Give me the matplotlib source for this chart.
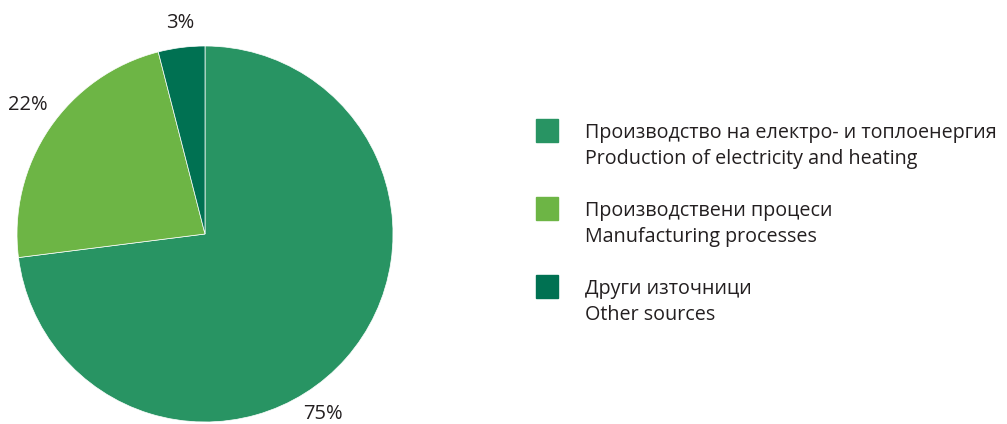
import matplotlib.pyplot as plt
from matplotlib.patches import Rectangle
import numpy as np

plt.rcParams['font.family'] = ['Open Sans', 'DejaVu Sans']

# slice sizes as drawn, printed labels as in the source
shares = [73, 23, 4]
pct_labels = ['75%', '22%', '3%']
names_bg = ['Производство на електро- и топлоенергия',
            'Производствени процеси',
            'Други източници']
names_en = ['Production of electricity and heating',
            'Manufacturing processes',
            'Other sources']
colors = ['#289463', '#6db545', '#007152']

W, H = 1007, 424
fig = plt.figure(figsize=(W / 100, H / 100), dpi=100)

# pie centre (205,234) px, radius 188 px
ax = fig.add_axes([17 / W, 2 / H, 376 / W, 376 / H])
wedges, _ = ax.pie(shares, colors=colors, startangle=90, counterclock=False,
                   wedgeprops=dict(edgecolor='white', linewidth=0.5))
ax.set_xlim(-1, 1)
ax.set_ylim(-1, 1)
ax.set_aspect('equal')
ax.axis('off')

# percent labels placed around the pie
lab_pos = [(0.625, -0.955), (-0.94, 0.685), (-0.13, 1.12)]
for txt, (x, y) in zip(pct_labels, lab_pos):
    ax.text(x, y, txt, ha='center', va='center', fontsize=14.5,
            color='#231f20', clip_on=False)

# legend drawn by hand
for i in range(len(names_bg)):
    top = 119 + i * 78
    fig.patches.append(Rectangle((536 / W, 1 - (top + 23) / H), 22 / W, 23 / H,
                                 transform=fig.transFigure, color=colors[i]))
    fig.text(585 / W, 1 - (top + 14) / H, names_bg[i], fontsize=14.2,
             va='center', ha='left', color='#231f20')
    fig.text(585 / W, 1 - (top + 40) / H, names_en[i], fontsize=14.2,
             va='center', ha='left', color='#231f20')

fig.savefig('out.png', dpi=100)
